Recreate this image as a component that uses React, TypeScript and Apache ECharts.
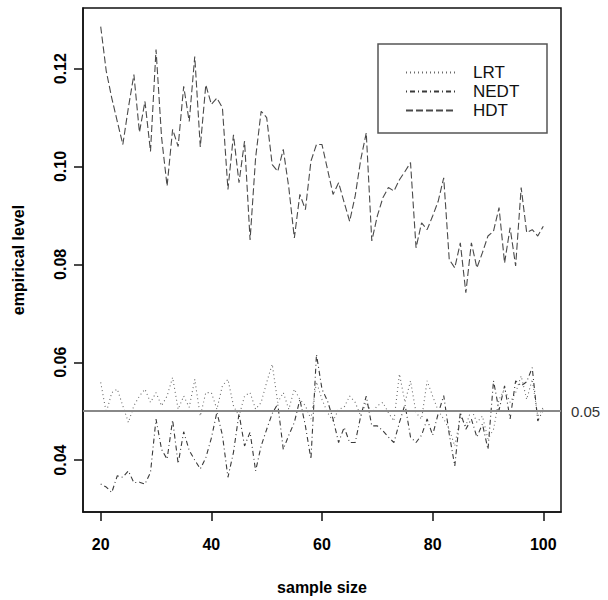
import React, { useEffect, useRef } from "react";
import * as echarts from "echarts";

const sampleSizes: number[] = [];
for (let n = 20; n <= 100; n++) sampleSizes.push(n);

const lrt = [
  0.0559, 0.0497, 0.0538, 0.0545, 0.0511, 0.0477, 0.0511, 0.0531, 0.0545, 0.0518,
  0.0538, 0.0511, 0.0531, 0.0569, 0.0504, 0.0531, 0.0508, 0.0565, 0.049, 0.0538,
  0.0538, 0.0504, 0.0552, 0.0565, 0.0511, 0.049, 0.0531, 0.0538, 0.0504, 0.0518,
  0.0559, 0.0596, 0.0518, 0.0538, 0.0504, 0.0545, 0.0524, 0.0511, 0.0484, 0.056,
  0.0524, 0.0497, 0.048, 0.0504, 0.0508, 0.0531, 0.0518, 0.049, 0.0518, 0.0497,
  0.0511, 0.0518, 0.0497, 0.048, 0.0576, 0.0518, 0.0562, 0.0497, 0.0484, 0.0562,
  0.0531, 0.0501, 0.0484, 0.0463, 0.0429, 0.049, 0.047, 0.0504, 0.0477, 0.049,
  0.0443, 0.0463, 0.0524, 0.0545, 0.0518, 0.0538, 0.0572, 0.0524, 0.0565, 0.049,
  0.0508,
];

const nedt = [
  0.0351, 0.0345, 0.0334, 0.0368, 0.0365, 0.0378, 0.0354, 0.0355, 0.0351, 0.0375,
  0.0484, 0.0422, 0.0402, 0.0482, 0.0393, 0.0458, 0.042, 0.04, 0.0382, 0.0405,
  0.0445, 0.0498, 0.0451, 0.0365, 0.0416, 0.0495, 0.0429, 0.0457, 0.0378, 0.0429,
  0.0463, 0.0495, 0.0515, 0.0422, 0.0451, 0.0477, 0.0524, 0.047, 0.0402, 0.0616,
  0.0545, 0.0521, 0.0484, 0.0436, 0.0467, 0.0436, 0.0436, 0.049, 0.0531, 0.047,
  0.047, 0.046, 0.0447, 0.0436, 0.0477, 0.0514, 0.0447, 0.0436, 0.0451, 0.0484,
  0.0451, 0.0495, 0.0532, 0.0453, 0.0388, 0.0498, 0.0463, 0.0484, 0.0447, 0.0474,
  0.0422, 0.0562, 0.0502, 0.0552, 0.0484, 0.0562, 0.0552, 0.056, 0.0589, 0.048,
  0.0503,
];

const hdt = [
  0.1286, 0.1195, 0.114, 0.1092, 0.1045, 0.112, 0.1188, 0.107, 0.1133, 0.1031,
  0.1239, 0.106, 0.096, 0.1076, 0.1041, 0.1164, 0.1092, 0.1225, 0.104, 0.1167,
  0.1127, 0.114, 0.112, 0.0953, 0.1065, 0.0967, 0.1052, 0.085, 0.1018, 0.1113,
  0.11, 0.1004, 0.099, 0.1035, 0.0957, 0.0854, 0.0943, 0.0912, 0.1011, 0.1045,
  0.1045, 0.0994, 0.0943, 0.0967, 0.0927, 0.0888, 0.094, 0.1014, 0.1069, 0.0848,
  0.0899, 0.0936, 0.0957, 0.095, 0.0973, 0.099, 0.1008, 0.0834, 0.0885, 0.0871,
  0.0899, 0.0929, 0.0977, 0.081, 0.0793, 0.0844, 0.0742, 0.0844, 0.0793, 0.0824,
  0.0858, 0.0868, 0.0916, 0.0803, 0.0875, 0.0797, 0.0957, 0.0865, 0.0871, 0.0858,
  0.0878,
];

const xTicks = [20, 40, 60, 80, 100];
const yTicks = [0.04, 0.06, 0.08, 0.1, 0.12];
const nominalLevel = 0.05;
const seriesNames = ["LRT", "NEDT", "HDT"];

const FONT = "'Liberation Sans', Arial, Helvetica, sans-serif";

export default function App() {
  const ref = useRef<HTMLDivElement>(null);
  useEffect(() => {
    if (!ref.current) return;
    const chart = echarts.init(ref.current, undefined, { renderer: "svg" });
    const pair = (ys: number[]) => sampleSizes.map((x, i) => [x, ys[i]]);
    chart.setOption({
      animation: false,
      backgroundColor: "#fff",
      textStyle: { fontFamily: FONT },
      grid: {
        left: 83,
        right: 47,
        top: 8,
        bottom: 87,
        show: true,
        borderColor: "#111",
        borderWidth: 1.5,
        backgroundColor: "transparent",
      },
      xAxis: {
        type: "value",
        min: 16.8,
        max: 103.2,
        name: "sample size",
        nameLocation: "middle",
        nameGap: 67,
        nameTextStyle: { fontSize: 16, fontWeight: "bold", color: "#000", fontFamily: FONT },
        splitLine: { show: false },
        axisLine: { show: true, lineStyle: { color: "#111", width: 1.5 } },
        axisTick: { show: true, customValues: xTicks, length: 9, lineStyle: { color: "#111", width: 1.5 } },
        axisLabel: {
          customValues: xTicks,
          margin: 24,
          fontSize: 16,
          fontWeight: "bold",
          color: "#000",
          fontFamily: FONT,
        },
      },
      yAxis: {
        type: "value",
        min: 0.0294,
        max: 0.1324,
        name: "empirical level",
        nameLocation: "middle",
        nameRotate: 90,
        nameGap: 57,
        nameTextStyle: { fontSize: 16, fontWeight: "bold", color: "#000", fontFamily: FONT },
        splitLine: { show: false },
        axisLine: { show: true, lineStyle: { color: "#111", width: 1.5 } },
        axisTick: { show: true, customValues: yTicks, length: 9, lineStyle: { color: "#111", width: 1.5 } },
        axisLabel: {
          customValues: yTicks,
          rotate: 90,
          margin: 15,
          fontSize: 16,
          fontWeight: "bold",
          color: "#000",
          fontFamily: FONT,
          formatter: (v: number) => v.toFixed(2),
        },
      },
      legend: {
        orient: "vertical",
        left: 400,
        top: 59,
        itemWidth: 50,
        itemHeight: 14,
        itemGap: 2,
        data: seriesNames,
        itemStyle: { color: "transparent", borderWidth: 0, opacity: 0 },
        textStyle: { fontSize: 17, color: "#111", fontFamily: FONT, padding: [0, 0, 0, 12], lineHeight: 17 },
      },
      graphic: [
        {
          type: "rect",
          shape: { x: 378, y: 44, width: 169, height: 89 },
          style: { fill: "none", stroke: "#555", lineWidth: 1.5 },
          z: 10,
        },
      ],
      series: [
        {
          name: seriesNames[0],
          type: "line",
          data: pair(lrt),
          symbol: "none",
          lineStyle: { color: "#6a6a6a", width: 1.1, type: [1, 3] },
          itemStyle: { color: "#6a6a6a" },
          markLine: {
            silent: true,
            symbol: "none",
            data: [{ yAxis: nominalLevel }],
            lineStyle: { color: "#888", width: 2, type: "solid" },
            label: {
              position: "end",
              distance: 10,
              formatter: "0.05",
              fontSize: 15,
              color: "#333",
              fontFamily: FONT,
            },
          },
        },
        {
          name: seriesNames[1],
          type: "line",
          data: pair(nedt),
          symbol: "none",
          lineStyle: { color: "#3a3a3a", width: 1.1, type: [1, 3, 5, 3] },
          itemStyle: { color: "#3a3a3a" },
        },
        {
          name: seriesNames[2],
          type: "line",
          data: pair(hdt),
          symbol: "none",
          lineStyle: { color: "#4a4a4a", width: 1.1, type: [7, 3] },
          itemStyle: { color: "#4a4a4a" },
        },
      ],
    });
    return () => chart.dispose();
  }, []);
  return (
    <div
      ref={ref}
      style={{ position: "absolute", left: 0, top: 0, width: 608, height: 600 }}
    />
  );
}
